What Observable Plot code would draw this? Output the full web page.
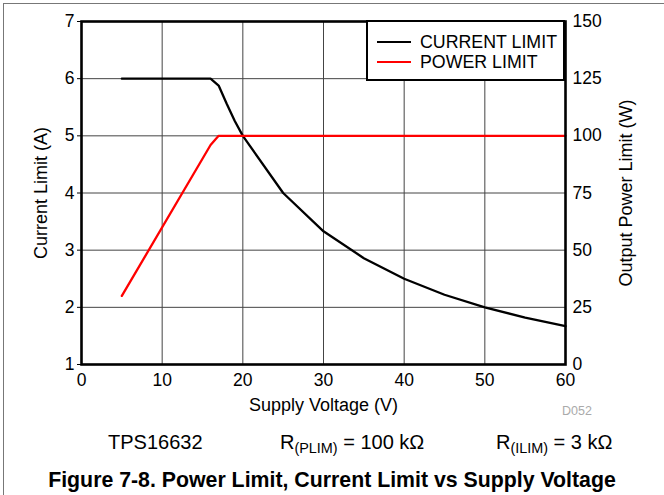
<!DOCTYPE html>
<html>
<head>
<meta charset="utf-8">
<script src="https://cdn.jsdelivr.net/npm/d3@7"></script>
<script src="https://cdn.jsdelivr.net/npm/@observablehq/plot@0.6"></script>
<style>
  html, body { margin: 0; padding: 0; background: #fff; }
  body { width: 664px; height: 495px; position: relative; overflow: hidden; font-family: "Liberation Sans", Arial, sans-serif; color: #000; }
  #border { position: absolute; left: 3px; top: 3px; width: 700px; height: 600px; border-top: 1px solid #777; border-left: 1px solid #777; }
  #chart { position: absolute; left: 0; top: 0; }
  .abs { position: absolute; white-space: nowrap; line-height: 1; }
  #legend { position: absolute; left: 366px; top: 20px; width: 199px; height: 61px; box-sizing: border-box; border: 2px solid #000; background: #fff; }
  .lg { position: absolute; left: 0; font-size: 17.8px; line-height: 1; }
  .sw { position: absolute; left: 9px; width: 34px; height: 2px; }
  .lt { position: absolute; left: 52px; white-space: nowrap; }
  sub { font-size: 0.72em; vertical-align: -0.3em; line-height: 0; }
  #chart svg g[aria-label="y-axis label"] text, #chart svg g[aria-label="x-axis label"] text { font-size: 18px; }
</style>
</head>
<body>
<div id="border"></div>
<div id="chart"></div>
<script>
// Data
const voltage = [5, 16, 17, 18, 19, 20, 25, 30, 35, 40, 45, 50, 55, 60];
const currentLimit = [6, 6, 5.88, 5.56, 5.26, 5.0, 4.0, 3.33, 2.86, 2.5, 2.22, 2.0, 1.82, 1.67];
const powerLimit = [30, 96, 100, 100, 100, 100, 100, 100, 100, 100, 100, 100, 100, 100];
const xTicks = [0, 10, 20, 30, 40, 50, 60];
const yLeftTicks = [1, 2, 3, 4, 5, 6, 7];
const yRightTicks = [0, 25, 50, 75, 100, 125, 150];
const seriesNames = ["CURRENT LIMIT", "POWER LIMIT"];
const seriesColors = ["#000000", "#ff0000"];

// right axis (W) mapped onto left axis (A): 0..150 W -> 1..7 A
const wToA = w => 1 + w / 25;

const rows = voltage.map((v, i) => ({v, i: currentLimit[i], p: powerLimit[i]}));

const chart = Plot.plot({
  width: 664,
  height: 420,
  marginLeft: 81,
  marginRight: 99,
  marginTop: 21,
  marginBottom: 56,
  style: {fontFamily: "'Liberation Sans', Arial, sans-serif", fontSize: "17.5px", color: "#000", background: "transparent", overflow: "visible"},
  x: {domain: [0, 60]},
  y: {domain: [1, 7]},
  marks: [
    Plot.gridX(xTicks.slice(1, -1), {stroke: "#444", strokeOpacity: 1, strokeWidth: 1}),
    Plot.gridY(yLeftTicks.slice(1, -1), {stroke: "#444", strokeOpacity: 1, strokeWidth: 1}),
    Plot.line(rows, {x: "v", y: "i", stroke: seriesColors[0], strokeWidth: 2.3}),
    Plot.line(rows, {x: "v", y: d => wToA(d.p), stroke: seriesColors[1], strokeWidth: 2.3}),
    Plot.frame({stroke: "#000", strokeWidth: 2.6}),
    Plot.axisX(xTicks, {tickSize: 0, tickPadding: 9, tickFormat: d => String(d), label: "Supply Voltage (V)", labelAnchor: "center", labelArrow: "none", labelOffset: 46}),
    Plot.axisY(yLeftTicks, {anchor: "left", tickSize: 4, tickPadding: 3, tickFormat: d => String(d), label: "Current Limit (A)", labelAnchor: "center", labelArrow: "none", labelOffset: 47}),
    Plot.axisY(yRightTicks.map(wToA), {anchor: "right", tickSize: 0, tickPadding: 7, tickFormat: d => String(Math.round((d - 1) * 25)), label: "Output Power Limit (W)", labelAnchor: "center", labelArrow: "none", labelOffset: 66})
  ]
});
document.getElementById("chart").appendChild(chart);

// Legend (inside plot area, top right)
const legend = document.createElement("div");
legend.id = "legend";
seriesNames.forEach((name, k) => {
  const row = document.createElement("div");
  row.className = "lg";
  row.style.top = (k === 0 ? 12 : 32) + "px";
  const sw = document.createElement("div");
  sw.className = "sw";
  sw.style.background = seriesColors[k];
  sw.style.top = "7px";
  const t = document.createElement("div");
  t.className = "lt";
  t.textContent = name;
  row.appendChild(sw);
  row.appendChild(t);
  legend.appendChild(row);
});
document.body.appendChild(legend);

function addText(html, css) {
  const el = document.createElement("div");
  el.className = "abs";
  el.innerHTML = html;
  Object.assign(el.style, css);
  document.body.appendChild(el);
}
addText("D052", {left: "562px", top: "405px", fontSize: "12.5px", color: "#aaa"});
addText("TPS16632", {left: "108px", top: "432px", fontSize: "20px"});
addText("R<sub>(PLIM)</sub> = 100 kΩ", {left: "280px", top: "432px", fontSize: "20px"});
addText("R<sub>(ILIM)</sub> = 3 kΩ", {left: "496px", top: "432px", fontSize: "20px"});
addText("Figure 7-8. Power Limit, Current Limit vs Supply Voltage", {left: "0px", width: "664px", textAlign: "center", top: "470px", fontSize: "21.3px", fontWeight: "bold"});
</script>
</body>
</html>
